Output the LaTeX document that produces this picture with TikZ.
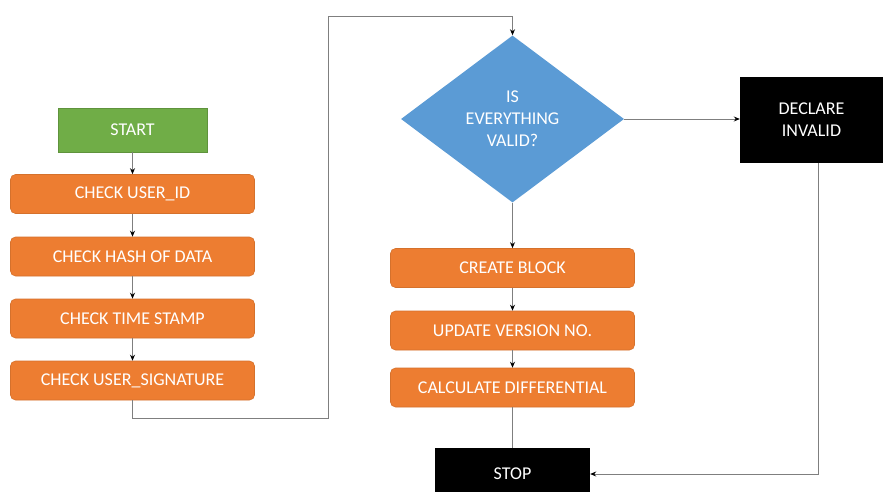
\documentclass[tikz,border=0pt]{standalone}
\usepackage{fontspec}
\setmainfont{Carlito}
\usetikzlibrary{shapes.geometric,arrows.meta}
\definecolor{orng}{HTML}{ED7D31}
\definecolor{grn}{HTML}{70AD47}
\definecolor{blu}{HTML}{5B9BD5}
\definecolor{lin}{HTML}{7F7F7F}
\begin{document}
\begin{tikzpicture}[x=1pt,y=-1pt,
  txt/.style={text=white,font=\fontsize{18}{22}\selectfont,align=center,inner sep=0pt},
  startbox/.style={txt,fill=grn,draw=grn!85!black,line width=0.6pt,minimum width=149pt,minimum height=44pt},
  procbox/.style={txt,fill=orng,draw=orng!90!black,line width=0.6pt,rounded corners=5pt,minimum width=244pt,minimum height=39pt},
  blackbox/.style={txt,fill=black,minimum width=155pt,minimum height=44pt},
  decbox/.style={txt,fill=blu,diamond,aspect=1.335,minimum width=223pt,minimum height=167pt},
  conn/.style={draw=lin,line width=0.9pt},
  arr/.style={conn,-{Stealth[length=6pt,width=5pt,fill=black,color=black]}}]
\useasboundingbox (0,0) rectangle (883,492);
\fill[white] (0,0) rectangle (883,492);

\node[startbox] (start) at (132.5,130) {START};
\node[procbox] (uid) at (132.5,194) {CHECK USER\_ID};
\node[procbox] (hash) at (132.5,256.5) {CHECK HASH OF DATA};
\node[procbox] (ts) at (132.5,318.5) {CHECK TIME STAMP};
\node[procbox] (sig) at (132.5,380.5) {CHECK USER\_SIGNATURE};

\node[decbox] (dia) at (512.5,119) {IS\\EVERYTHING\\VALID?};
\node[blackbox,minimum width=143pt,minimum height=86pt] (inv) at (811.5,120) {DECLARE\\INVALID};

\node[procbox] (cb) at (512.5,268) {CREATE BLOCK};
\node[procbox] (uv) at (512.5,330.5) {UPDATE VERSION NO.};
\node[procbox] (cd) at (512.5,387.5) {CALCULATE DIFFERENTIAL};
\node[blackbox,minimum height=52pt] (stop) at (512.5,474) {STOP};

\coordinate (c1) at (132.5,418);
\coordinate (c2) at (328,418);
\coordinate (c3) at (328,16);
\coordinate (c4) at (512.5,16);
\coordinate (c5) at (818,474);
\coordinate (c6) at (818,163);

\draw[arr] (start) -- (uid);
\draw[arr] (uid) -- (hash);
\draw[arr] (hash) -- (ts);
\draw[arr] (ts) -- (sig);
\draw[arr] (sig.south) -- (c1) -- (c2) -- (c3) -- (c4) -- (dia.north);
\draw[arr] (dia.east) -- (inv.west |- dia.east);
\draw[arr] (c6) -- (c5) -- (stop.east |- c5);
\draw[arr] (dia.south) -- (cb.north);
\draw[arr] (cb) -- (uv);
\draw[arr] (uv) -- (cd);
\draw[conn] (cd.south) -- (stop.north);
\end{tikzpicture}
\end{document}
